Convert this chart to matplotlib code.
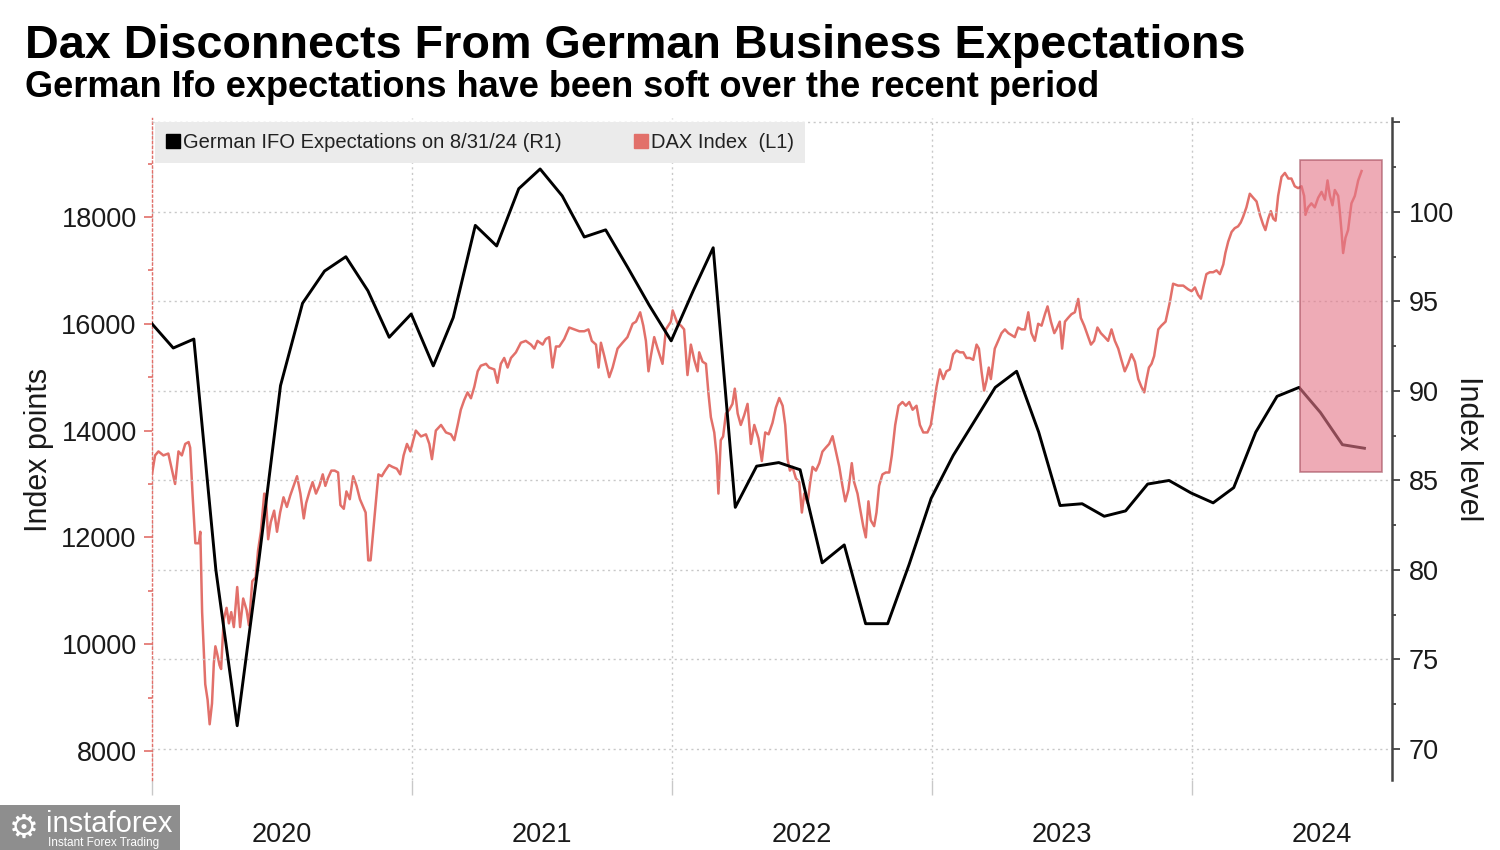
import numpy as np
import pandas as pd
import matplotlib
matplotlib.use("Agg")
import matplotlib.pyplot as plt
from matplotlib.lines import Line2D
from matplotlib.patches import Rectangle
from matplotlib.ticker import FixedLocator, MultipleLocator, NullFormatter

# monthly Ifo expectations, month-end readings
IFO_MONTHS = pd.date_range("2019-12-31", "2024-08-31", freq="ME")
IFO_VALUES = [
    93.8,
    92.4, 92.9, 80.0, 71.3, 80.7, 90.3, 94.9, 96.7, 97.5, 95.6, 93.0, 94.3,
    91.4, 94.1, 99.25, 98.1, 101.3, 102.4, 100.9, 98.6, 99.0, 96.9, 94.8, 92.8,
    95.6, 98.0, 83.5, 85.8, 86.0, 85.6, 80.4, 81.4, 77.0, 77.0, 80.3, 84.0,
    86.4, 88.2, 90.2, 91.1, 87.7, 83.6, 83.7, 83.0, 83.3, 84.8, 85.0, 84.3,
    83.75, 84.6, 87.7, 89.7, 90.2, 88.8, 87.0, 86.8,
]

# DAX (decimal year, index points)
DAX_YEARS = [
    2020.000, 2020.012, 2020.025, 2020.044, 2020.063, 2020.076, 2020.089, 2020.102, 2020.115, 2020.128,
    2020.141, 2020.147, 2020.156, 2020.167, 2020.180, 2020.186, 2020.193, 2020.205, 2020.214, 2020.222,
    2020.231, 2020.238, 2020.244, 2020.251, 2020.260, 2020.266, 2020.276, 2020.287, 2020.296, 2020.305,
    2020.315, 2020.328, 2020.339, 2020.351, 2020.364, 2020.373, 2020.386, 2020.399, 2020.408, 2020.419,
    2020.432, 2020.438, 2020.447, 2020.457, 2020.470, 2020.481, 2020.493, 2020.506, 2020.519, 2020.532,
    2020.545, 2020.558, 2020.571, 2020.584, 2020.593, 2020.606, 2020.618, 2020.631, 2020.644, 2020.657,
    2020.667, 2020.677, 2020.690, 2020.703, 2020.716, 2020.725, 2020.738, 2020.748, 2020.761, 2020.774,
    2020.787, 2020.800, 2020.813, 2020.822, 2020.832, 2020.841, 2020.851, 2020.860, 2020.871, 2020.884,
    2020.897, 2020.912, 2020.925, 2020.942, 2020.955, 2020.968, 2020.981, 2020.994,
    2021.015, 2021.035, 2021.054, 2021.067, 2021.077, 2021.092, 2021.112, 2021.131, 2021.150, 2021.163,
    2021.176, 2021.188, 2021.201, 2021.214, 2021.227, 2021.240, 2021.253, 2021.265, 2021.285, 2021.297,
    2021.317, 2021.329, 2021.342, 2021.355, 2021.368, 2021.381, 2021.400, 2021.419, 2021.438, 2021.458,
    2021.471, 2021.483, 2021.503, 2021.515, 2021.528, 2021.541, 2021.554, 2021.567, 2021.586, 2021.605,
    2021.624, 2021.644, 2021.663, 2021.679, 2021.692, 2021.708, 2021.718, 2021.727, 2021.740, 2021.759,
    2021.772, 2021.791, 2021.810, 2021.829, 2021.849, 2021.862, 2021.878, 2021.890, 2021.900, 2021.910,
    2021.919, 2021.932, 2021.945, 2021.964, 2021.977, 2021.996,
    2022.003, 2022.022, 2022.035, 2022.047, 2022.060, 2022.073, 2022.086, 2022.099, 2022.105, 2022.118,
    2022.131, 2022.141, 2022.150, 2022.163, 2022.172, 2022.179, 2022.188, 2022.197, 2022.208, 2022.221,
    2022.233, 2022.242, 2022.253, 2022.265, 2022.278, 2022.291, 2022.304, 2022.317, 2022.333, 2022.346,
    2022.359, 2022.372, 2022.387, 2022.400, 2022.413, 2022.426, 2022.436, 2022.445, 2022.454, 2022.464,
    2022.477, 2022.490, 2022.500, 2022.509, 2022.522, 2022.532, 2022.541, 2022.554, 2022.567, 2022.579,
    2022.592, 2022.605, 2022.618, 2022.631, 2022.644, 2022.656, 2022.667, 2022.679, 2022.692, 2022.701,
    2022.714, 2022.724, 2022.736, 2022.746, 2022.756, 2022.765, 2022.778, 2022.787, 2022.797, 2022.810,
    2022.823, 2022.836, 2022.846, 2022.859, 2022.872, 2022.887, 2022.900, 2022.913, 2022.926, 2022.941,
    2022.954, 2022.967, 2022.983, 2022.996,
    2023.005, 2023.018, 2023.031, 2023.044, 2023.056, 2023.069, 2023.082, 2023.095, 2023.108, 2023.121,
    2023.133, 2023.146, 2023.159, 2023.172, 2023.181, 2023.191, 2023.201, 2023.210, 2023.219, 2023.227,
    2023.242, 2023.255, 2023.268, 2023.281, 2023.294, 2023.306, 2023.319, 2023.332, 2023.345, 2023.358,
    2023.371, 2023.383, 2023.396, 2023.409, 2023.422, 2023.435, 2023.445, 2023.458, 2023.471, 2023.479,
    2023.492, 2023.501, 2023.512, 2023.524, 2023.537, 2023.550, 2023.563, 2023.573, 2023.586, 2023.599,
    2023.612, 2023.624, 2023.637, 2023.650, 2023.665, 2023.678, 2023.691, 2023.704, 2023.717, 2023.729,
    2023.742, 2023.755, 2023.768, 2023.781, 2023.794, 2023.806, 2023.817, 2023.826, 2023.835, 2023.845,
    2023.855, 2023.871, 2023.883, 2023.899, 2023.915, 2023.928, 2023.947, 2023.967, 2023.986, 2023.999,
    2024.012, 2024.024, 2024.035, 2024.044, 2024.056, 2024.069, 2024.082, 2024.095, 2024.108, 2024.121,
    2024.129, 2024.140, 2024.153, 2024.165, 2024.178, 2024.188, 2024.197, 2024.210, 2024.223, 2024.236,
    2024.249, 2024.262, 2024.274, 2024.283, 2024.294, 2024.304, 2024.313, 2024.322, 2024.332, 2024.345,
    2024.358, 2024.371, 2024.383, 2024.396, 2024.409, 2024.422, 2024.432, 2024.437, 2024.447, 2024.460,
    2024.473, 2024.486, 2024.499, 2024.512, 2024.522, 2024.531, 2024.541, 2024.550, 2024.563, 2024.569,
    2024.576, 2024.582, 2024.591, 2024.601, 2024.614, 2024.627, 2024.640, 2024.653,
]
DAX_VALUES = [
    13180, 13535, 13610, 13535, 13570, 13285, 13000, 13610, 13535, 13750,
    13785, 13680, 12820, 11890, 11890, 12105, 10600, 9250, 8960, 8500,
    8890, 9640, 9960, 9820, 9605, 9535, 10460, 10680, 10390, 10600,
    10320, 11070, 10320, 10855, 10640, 10355, 11180, 11250, 11750, 12105,
    12820, 12785, 11965, 12285, 12500, 12105, 12465, 12750, 12570, 12785,
    12965, 13145, 12820, 12355, 12640, 12860, 13035, 12820, 12965, 13180,
    12965, 13110, 13250, 13250, 13215, 12605, 12535, 12860, 12715, 13145,
    12965, 12715, 12570, 12465, 11570, 11570, 12105, 12570, 13180, 13145,
    13250, 13355, 13320, 13285, 13180, 13535, 13750, 13610,
    14000, 13890, 13930, 13750, 13465, 14000, 14105, 13965, 13930, 13820,
    14105, 14390, 14570, 14715, 14605, 14820, 15110, 15215, 15250, 15180,
    15145, 14895, 15250, 15360, 15180, 15360, 15465, 15645, 15680, 15610,
    15535, 15680, 15610, 15715, 15750, 15180, 15575, 15575, 15715, 15930,
    15895, 15860, 15860, 15895, 15680, 15610, 15180, 15645, 15395, 15000,
    15180, 15535, 15645, 15750, 16000, 16040, 16215, 15965, 15680, 15110,
    15395, 15750, 15535, 15250, 15895, 16040,
    16250, 16000, 15965, 15895, 15040, 15610, 15325, 15110, 15465, 15290,
    15250, 14680, 14250, 13965, 13535, 12820, 13820, 13890, 14320, 14390,
    14500, 14785, 14320, 14105, 14285, 14500, 13750, 14105, 13855, 13430,
    13965, 13930, 14145, 14430, 14610, 14465, 14105, 13465, 13250, 13320,
    13105, 13035, 12465, 12820, 12640, 13035, 13320, 13250, 13390, 13605,
    13680, 13750, 13895, 13605, 13320, 12965, 12675, 12890, 13390, 13035,
    12820, 12535, 12210, 12000, 12675, 12320, 12210, 12465, 12965, 13180,
    13215, 13215, 13535, 14105, 14465, 14535, 14465, 14535, 14390, 14465,
    14105, 13965, 13965, 14105,
    14390, 14820, 15145, 14965, 15110, 15145, 15430, 15500, 15465, 15465,
    15360, 15360, 15325, 15610, 15535, 15110, 14750, 14930, 15180, 14965,
    15535, 15680, 15825, 15895, 15825, 15790, 15750, 15930, 15895, 15895,
    16215, 15825, 15680, 16000, 15965, 16180, 16325, 16040, 15825, 15895,
    16040, 15535, 16040, 16110, 16180, 16215, 16465, 16110, 15965, 15790,
    15610, 15680, 15930, 15825, 15750, 15680, 15895, 15680, 15535, 15325,
    15110, 15250, 15430, 15290, 14965, 14820, 14715, 14965, 15180, 15250,
    15395, 15895, 15965, 16040, 16395, 16750, 16715, 16715, 16645, 16610,
    16680, 16540, 16470, 16680, 16930, 16965, 16965, 17000, 16930, 17110,
    17325, 17540, 17720, 17790, 17825, 17895, 18000, 18180, 18435, 18360,
    18290, 18040, 17860, 17755, 17970, 18110, 17970, 17930, 18395, 18750,
    18825, 18720, 18720, 18575, 18540, 18575, 18395, 18040, 18180, 18255,
    18180, 18360, 18470, 18325, 18685, 18395, 18220, 18505, 18395, 18110,
    17720, 17325, 17610, 17755, 18255, 18395, 18685, 18860,
]

YEARS = [2020, 2021, 2022, 2023, 2024]
YEAR_LABELS = ["2020", "2021", "2022", "2023", "2024"]
DAX_TICKS = [8000, 10000, 12000, 14000, 16000, 18000]
IFO_TICKS = [70, 75, 80, 85, 90, 95, 100]
HIGHLIGHT_YEARS = (2024.415, 2024.731)
HIGHLIGHT_LEVELS = (85.5, 102.9)

RED = "#e2706a"
TEXT = "#1a1a1a"
GRID = "#c8c8c8"
SANS = ["Liberation Sans", "DejaVu Sans"]


def decimal_year(ts):
    start = pd.Timestamp(year=ts.year, month=1, day=1)
    length = pd.Timestamp(year=ts.year + 1, month=1, day=1) - start
    return ts.year + (ts - start) / length


ifo_x = np.array([decimal_year(t) for t in IFO_MONTHS])

fig = plt.figure(figsize=(15, 8.5), dpi=100)
ax = fig.add_axes([0.1013, 0.0824, 0.8267, 0.7788])
ax2 = ax.twinx()

ax.plot(DAX_YEARS, DAX_VALUES, color=RED, linewidth=1.8, zorder=3)
ax2.plot(ifo_x, IFO_VALUES, color="black", linewidth=2.1, zorder=3)
ax2.add_patch(Rectangle((HIGHLIGHT_YEARS[0], HIGHLIGHT_LEVELS[0]), HIGHLIGHT_YEARS[1] - HIGHLIGHT_YEARS[0],
                        HIGHLIGHT_LEVELS[1] - HIGHLIGHT_LEVELS[0], facecolor="#e4788a", alpha=0.62,
                        edgecolor="#a04858", linewidth=1.2, zorder=5))

ax.set_xlim(2020.0, 2024.77)
ax.set_ylim(7457, 19854)
ax2.set_ylim(68.27, 105.25)

# x axis: year boundaries as ticks/grid, labels centred mid-year
ax.xaxis.set_major_locator(FixedLocator(YEARS))
ax.xaxis.set_major_formatter(NullFormatter())
ax.xaxis.set_minor_locator(FixedLocator([y + 0.5 for y in YEARS]))
ax.set_xticklabels(YEAR_LABELS, minor=True)
ax.tick_params(axis="x", which="major", length=11, color=GRID, width=1)
ax.tick_params(axis="x", which="minor", length=0, pad=30, labelsize=19.5, labelcolor=TEXT)
for lab in ax.get_xticklabels(minor=True):
    lab.set_family(SANS)
ax.grid(axis="x", which="major", color=GRID, linestyle=(0, (1.5, 2.5)), linewidth=1)

# left axis (DAX)
ax.set_yticks(DAX_TICKS)
ax.yaxis.set_minor_locator(MultipleLocator(1000))
ax.tick_params(axis="y", which="both", color=RED, width=1.2, labelsize=19.5, labelcolor=TEXT, pad=5)
ax.tick_params(axis="y", which="major", length=6)
ax.tick_params(axis="y", which="minor", length=3)
for lab in ax.get_yticklabels():
    lab.set_family(SANS)
ax.set_ylabel("Index points", fontsize=22, color=TEXT, family=SANS)
ax.yaxis.set_label_coords(-0.079, 0.498)

# right axis (Ifo)
ax2.set_yticks(IFO_TICKS + [105])
ax2.set_yticklabels([str(v) for v in IFO_TICKS] + [""])
ax2.yaxis.set_minor_locator(MultipleLocator(2.5))
ax2.tick_params(axis="y", which="both", color="#333333", width=1.2, labelsize=19.5, labelcolor=TEXT, pad=6)
ax2.tick_params(axis="y", which="major", length=6)
ax2.tick_params(axis="y", which="minor", length=3)
for lab in ax2.get_yticklabels():
    lab.set_family(SANS)
ax2.set_ylabel("Index level", fontsize=22, color=TEXT, family=SANS, rotation=270)
ax2.yaxis.set_label_coords(1.073, 0.5)
ax2.grid(axis="y", which="major", color=GRID, linestyle=(0, (1.5, 2.5)), linewidth=1, zorder=0)

for a in (ax, ax2):
    a.spines["top"].set_visible(False)
    a.spines["bottom"].set_visible(False)
ax2.spines["left"].set_visible(False)
ax.spines["right"].set_visible(False)
ax.spines["left"].set_color(RED)
ax.spines["left"].set_linestyle((0, (1.5, 2)))
ax.spines["left"].set_linewidth(1)
ax2.spines["right"].set_color("#444444")
ax2.spines["right"].set_linewidth(1.8)

handles = [Line2D([], [], marker="s", linestyle="none", color="black", markersize=10),
           Line2D([], [], marker="s", linestyle="none", color=RED, markersize=10)]
leg = ax2.legend(handles, ["German IFO Expectations on 8/31/24 (R1)", "DAX Index  (L1)"],
                 loc="upper left", bbox_to_anchor=(0.0024, 0.994), borderaxespad=0, ncol=2,
                 frameon=True, fancybox=False, facecolor="#ebebeb", edgecolor="none", framealpha=1,
                 handlelength=0.7, handletextpad=0.15, columnspacing=3.6, borderpad=0.55,
                 prop={"family": SANS, "size": 14.5})
for t in leg.get_texts():
    t.set_color("#222222")
leg.set_zorder(6)

fig.text(0.0167, 0.932, "Dax Disconnects From German Business Expectations", family=SANS,
         fontsize=33.7, fontweight="bold", color="black", va="baseline", ha="left")
fig.text(0.0167, 0.886, "German Ifo expectations have been soft over the recent period", family=SANS,
         fontsize=26, fontweight="bold", color="black", va="baseline", ha="left")

# instaforex watermark
fig.patches.append(Rectangle((0, 0), 0.12, 0.053, transform=fig.transFigure, facecolor="#8e8e8e",
                             edgecolor="none", zorder=1))
fig.text(0.016, 0.026, "\u2699", color="white", fontsize=24, va="center", ha="center", family="DejaVu Sans")
fig.text(0.031, 0.031, "instaforex", color="white", fontsize=21, va="center", ha="left", family=SANS)
fig.text(0.032, 0.0085, "Instant Forex Trading", color="white", fontsize=8.5, va="center", ha="left", family=SANS)

fig.savefig("out.png", dpi=100)
